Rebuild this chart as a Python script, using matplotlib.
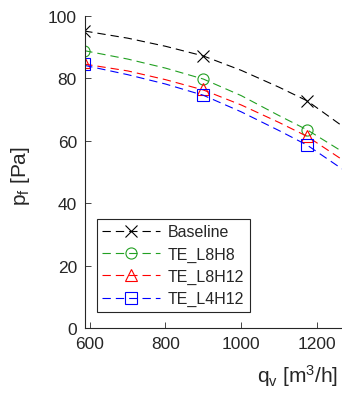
import matplotlib
matplotlib.use('Agg')
import matplotlib.pyplot as plt

plt.rcParams['font.family'] = ['Liberation Sans', 'DejaVu Sans']
plt.rcParams['mathtext.fontset'] = 'custom'
plt.rcParams['mathtext.rm'] = 'Liberation Sans'
plt.rcParams['mathtext.it'] = 'Liberation Sans'
plt.rcParams['lines.scale_dashes'] = False

# measured points (markers)
q_pts = [585, 900, 1175]
base_pts = [95.2, 87.2, 72.8]
l8h8_pts = [88.9, 79.8, 63.5]
l8h12_pts = [85.1, 76.6, 61.6]
l4h12_pts = [84.6, 74.6, 58.6]

# dashed curves
q_line = [585, 700, 800, 900, 1000, 1100, 1175, 1267]
base_line = [95.2, 92.9, 90.3, 87.2, 82.6, 77.2, 72.8, 64.8]
l8h8_line = [88.9, 86.2, 83.3, 79.8, 74.5, 68.1, 63.5, 56.6]
l8h12_line = [84.6, 82.4, 79.6, 76.3, 71.5, 65.9, 61.4, 54.0]
l4h12_line = [84.2, 81.2, 78.2, 74.6, 69.3, 63.3, 58.6, 51.0]

names = ['Baseline', 'TE_L8H8', 'TE_L8H12', 'TE_L4H12']
colors = ['#000000', '#22a022', '#ff0000', '#0000ff']
markers = ['x', 'o', '^', 's']

fig = plt.figure(figsize=(3.42, 4.02), dpi=100)
ax = fig.add_axes([0.2485, 0.1816, 0.7515, 0.7761])

dash = (0, (6, 3.6))
for yl, yp, c, m, n in zip([base_line, l8h8_line, l8h12_line, l4h12_line],
                           [base_pts, l8h8_pts, l8h12_pts, l4h12_pts],
                           colors, markers, names):
    ax.plot(q_line, yl, color=c, lw=0.8, linestyle=dash)
    ax.plot(q_pts, yp, color=c, lw=0, marker=m, markersize=8,
            markerfacecolor='none', markeredgewidth=0.8)
    # legend proxy
    ax.plot([], [], color=c, lw=0.8, linestyle=dash, marker=m, markersize=8,
            markerfacecolor='none', markeredgewidth=0.8, label=n)

ax.set_xlim(587, 1267)
ax.set_ylim(0, 100)
ax.set_xticks([600, 800, 1000, 1200])
ax.set_yticks([0, 20, 40, 60, 80, 100])
ax.tick_params(direction='in', length=4, width=0.6, colors='#262626',
               labelsize=12.5, pad=5.8)
for s in ['top', 'right']:
    ax.spines[s].set_visible(False)
for s in ['left', 'bottom']:
    ax.spines[s].set_color('#262626')
    ax.spines[s].set_linewidth(0.8)

ax.set_xlabel(r'q$_\mathrm{v}$ [m$^3$/h]', fontsize=15, color='#262626')
ax.xaxis.set_label_coords(0.827, -0.109)
ax.set_ylabel(r'p$_\mathrm{f}$ [Pa]', fontsize=15, color='#262626')
ax.yaxis.set_label_coords(-0.206, 0.49)

leg = ax.legend(loc='upper left', bbox_to_anchor=(0.045, 0.35), fontsize=11.5,
                handlelength=3.6, handletextpad=0.5, borderpad=0.35,
                labelspacing=0.45, fancybox=False, framealpha=1,
                borderaxespad=0)
leg.get_frame().set_edgecolor('#262626')
leg.get_frame().set_linewidth(0.8)
for t in leg.get_texts():
    t.set_color('#262626')

fig.savefig('out.png', dpi=100)
